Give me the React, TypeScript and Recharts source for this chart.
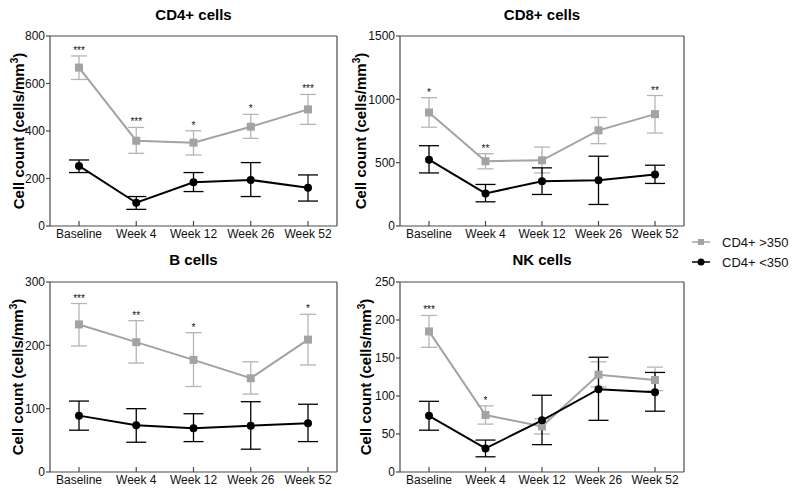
import { LineChart, Line, XAxis, YAxis, ErrorBar, LabelList, CartesianGrid } from "recharts";

const WEEKS = ["Baseline", "Week 4", "Week 12", "Week 26", "Week 52"];

// CD4+ cells
const cd4Hi = [667, 359, 351, 418, 491];
const cd4HiLow = [617, 306, 299, 369, 428];
const cd4HiHigh = [716, 415, 401, 470, 554];
const cd4Lo = [253, 98, 184, 194, 161];
const cd4LoLow = [225, 70, 145, 124, 105];
const cd4LoHigh = [278, 124, 225, 267, 215];
const cd4Stars = ["***", "***", "*", "*", "***"];

// CD8+ cells
const cd8Hi = [896, 511, 519, 755, 883];
const cd8HiLow = [780, 451, 419, 650, 734];
const cd8HiHigh = [1013, 571, 623, 857, 1030];
const cd8Lo = [524, 257, 354, 362, 406];
const cd8LoLow = [419, 191, 249, 170, 336];
const cd8LoHigh = [634, 328, 459, 551, 480];
const cd8Stars = ["*", "**", "", "", "**"];

// B cells
const bHi = [233, 205, 177, 148, 209];
const bHiLow = [199, 172, 135, 123, 169];
const bHiHigh = [266, 239, 220, 174, 249];
const bLo = [89, 74, 69, 73, 77];
const bLoLow = [66, 47, 48, 36, 48];
const bLoHigh = [112, 100, 92, 111, 107];
const bStars = ["***", "**", "*", "", "*"];

// NK cells
const nkHi = [185, 75, 60, 128, 121];
const nkHiLow = [164, 63, 50, 112, 107];
const nkHiHigh = [206, 87, 70, 145, 138];
const nkLo = [74, 31, 68, 109, 105];
const nkLoLow = [55, 20, 36, 68, 80];
const nkLoHigh = [93, 42, 101, 151, 131];
const nkStars = ["***", "*", "", "", ""];

const GRAY = "#a3a3a3";
const GRAY_ERR = "#b5b5b5";
const AXIS = "#4a4a4a";
const FONT = "'Liberation Sans', Arial, sans-serif";

function rows(hi: number[], hiLow: number[], hiHigh: number[], lo: number[], loLow: number[], loHigh: number[], stars: string[]) {
  return WEEKS.map((name, i) => ({
    name,
    hi: hi[i],
    hiErr: [hi[i] - hiLow[i], hiHigh[i] - hi[i]],
    lo: lo[i],
    loErr: [lo[i] - loLow[i], loHigh[i] - lo[i]],
    top: hiHigh[i],
    star: stars[i],
  }));
}

const Square = (p: any) => {
  if (p.cx == null || p.cy == null) return <g key={p.key} />;
  return <rect key={p.key} x={p.cx - 4} y={p.cy - 4} width={8} height={8} fill={GRAY} />;
};
const Dot = (p: any) => {
  if (p.cx == null || p.cy == null) return <g key={p.key} />;
  return <circle key={p.key} cx={p.cx} cy={p.cy} r={4} fill="#000" />;
};

type PanelProps = {
  title: string;
  data: ReturnType<typeof rows>;
  ticks: number[];
  left: number;
  top: number;
  width: number;
  height: number;
  marginTop: number;
  marginRight: number;
  labelX: number;
};

function Panel({ title, data, ticks, left, top, width, height, marginTop, marginRight, labelX }: PanelProps) {
  const plotLeft = 50;
  const plotRight = width - marginRight;
  const plotTop = marginTop;
  const plotBottom = height - 19;
  return (
    <div style={{ position: "absolute", left, top, width, height }}>
      <div
        style={{
          position: "absolute",
          left: (plotLeft + plotRight) / 2,
          top: 7,
          transform: "translateX(-50%)",
          fontWeight: "bold",
          fontSize: 15,
          lineHeight: "15px",
          whiteSpace: "nowrap",
          color: "#000",
        }}
      >
        {title}
      </div>
      <div
        style={{
          position: "absolute",
          left: labelX,
          top: (plotTop + plotBottom) / 2,
          transform: "translate(-50%, -50%) rotate(-90deg)",
          fontWeight: "bold",
          fontSize: 15,
          lineHeight: "15px",
          whiteSpace: "nowrap",
          color: "#000",
        }}
      >
        Cell count (cells/mm<sup style={{ fontSize: 10, lineHeight: 0 }}>3</sup>)
      </div>
      <LineChart width={width} height={height} data={data} margin={{ top: marginTop, right: marginRight, bottom: 0, left: 0 }}>
        {/* top and right edges of the frame */}
        <CartesianGrid horizontalPoints={[plotTop]} verticalPoints={[plotRight]} stroke={AXIS} strokeWidth={1.2} strokeDasharray="" />
        <XAxis
          dataKey="name"
          padding={{ left: 29, right: 29 }}
          height={19}
          tickSize={-5}
          tickMargin={8}
          tick={{ fontSize: 12, fill: "#111", fontFamily: FONT }}
          stroke={AXIS}
          strokeWidth={1.2}
          interval={0}
        />
        <YAxis
          domain={[0, ticks[ticks.length - 1]]}
          ticks={ticks}
          width={50}
          tickSize={4}
          tickMargin={1}
          tick={{ fontSize: 12, fill: "#111", fontFamily: FONT }}
          stroke={AXIS}
          strokeWidth={1.2}
          interval={0}
        />
        <Line dataKey="hi" stroke={GRAY} strokeWidth={2} dot={Square} activeDot={false} isAnimationActive={false}>
          <ErrorBar dataKey="hiErr" width={8} stroke={GRAY_ERR} strokeWidth={1.3} direction="y" />
        </Line>
        <Line dataKey="top" stroke="none" dot={false} activeDot={false} isAnimationActive={false} legendType="none">
          <LabelList dataKey="star" position="top" offset={2} fontSize={10} fill="#111" fontFamily={FONT} />
        </Line>
        <Line dataKey="lo" stroke="#000" strokeWidth={2} dot={Dot} activeDot={false} isAnimationActive={false}>
          <ErrorBar dataKey="loErr" width={10} stroke="#000" strokeWidth={1.3} direction="y" />
        </Line>
      </LineChart>
    </div>
  );
}

function LegendRow({ y, label, square }: { y: number; label: string; square: boolean }) {
  return (
    <div style={{ position: "absolute", left: 690, top: y - 8, height: 16, display: "flex", alignItems: "center" }}>
      <svg width={24} height={16}>
        <line x1={2} x2={20} y1={8} y2={8} stroke={square ? GRAY : "#000"} strokeWidth={1.5} />
        {square ? <rect x={8} y={5} width={6} height={6} fill={GRAY} /> : <circle cx={11} cy={8} r={3.5} fill="#000" />}
      </svg>
      <span style={{ marginLeft: 8, fontSize: 13, color: "#111" }}>{label}</span>
    </div>
  );
}

export default function App() {
  return (
    <div style={{ position: "absolute", left: 0, top: 0, width: 800, height: 491, background: "#fff", fontFamily: FONT }}>
      <Panel title="CD4+ cells" data={rows(cd4Hi, cd4HiLow, cd4HiHigh, cd4Lo, cd4LoLow, cd4LoHigh, cd4Stars)} ticks={[0, 200, 400, 600, 800]}
        left={0} top={0} width={345} height={245} marginTop={36} marginRight={8} labelX={18} />
      <Panel title="CD8+ cells" data={rows(cd8Hi, cd8HiLow, cd8HiHigh, cd8Lo, cd8LoLow, cd8LoHigh, cd8Stars)} ticks={[0, 500, 1000, 1500]}
        left={350} top={0} width={340} height={245} marginTop={36} marginRight={6} labelX={10} />
      <Panel title="B cells" data={rows(bHi, bHiLow, bHiHigh, bLo, bLoLow, bLoHigh, bStars)} ticks={[0, 100, 200, 300]}
        left={0} top={245} width={345} height={246} marginTop={37} marginRight={8} labelX={17} />
      <Panel title="NK cells" data={rows(nkHi, nkHiLow, nkHiHigh, nkLo, nkLoLow, nkLoHigh, nkStars)} ticks={[0, 50, 100, 150, 200, 250]}
        left={350} top={245} width={340} height={246} marginTop={37} marginRight={6} labelX={15} />
      <LegendRow y={242} label="CD4+ >350" square />
      <LegendRow y={262} label="CD4+ <350" square={false} />
    </div>
  );
}
